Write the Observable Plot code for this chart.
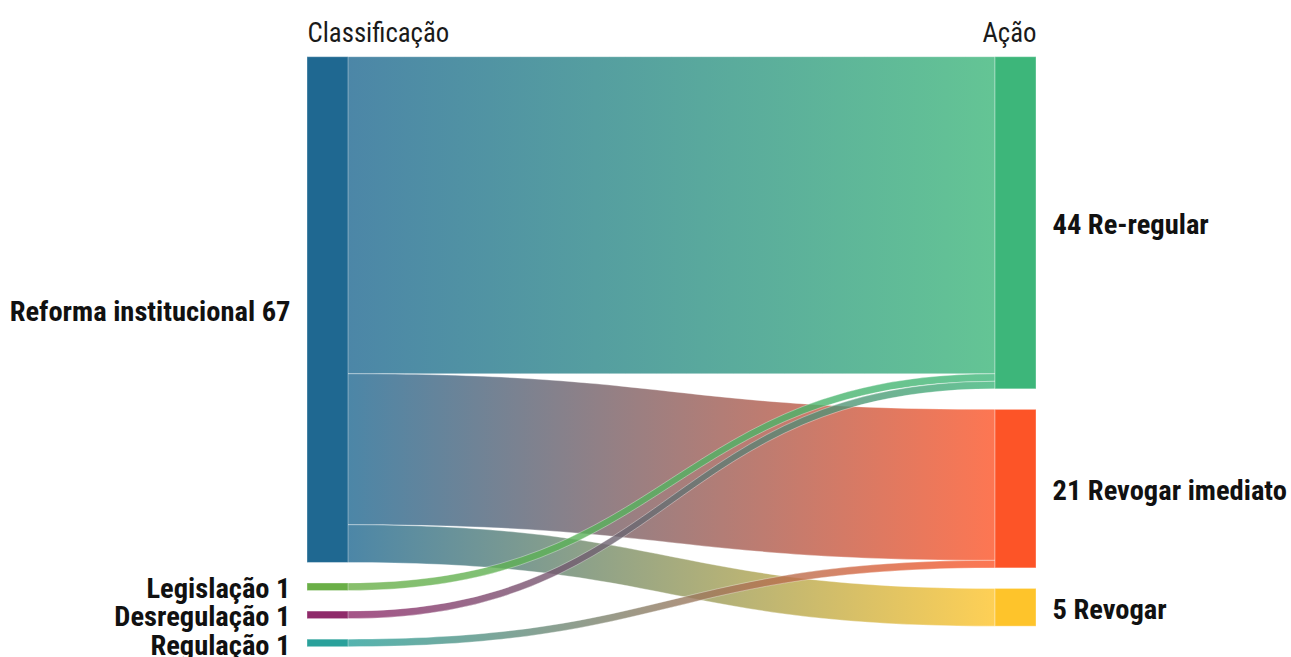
<!DOCTYPE html>
<html>
<head>
<meta charset="utf-8">
<script src="https://cdn.jsdelivr.net/npm/d3@7"></script>
<script src="https://cdn.jsdelivr.net/npm/@observablehq/plot@0.6"></script>
<style>
  html, body { margin: 0; padding: 0; background: #fff; overflow: hidden; }
</style>
</head>
<body>
<div id="chart"></div>
<script>
// ---- Data ----
const sourceNames = ["Reforma institucional", "Legislação", "Desregulação", "Regulação"];
const sourceColors = ["#1f6891", "#6aaf47", "#8f2a6a", "#2aa19b"];
const targetNames = ["Re-regular", "Revogar imediato", "Revogar"];
const targetColors = ["#3db67a", "#fd5427", "#fec42b"];
const linkSource = ["Reforma institucional", "Reforma institucional", "Reforma institucional", "Legislação", "Desregulação", "Regulação"];
const linkTarget = ["Re-regular", "Revogar imediato", "Revogar", "Re-regular", "Re-regular", "Revogar imediato"];
const linkValue = [42, 20, 5, 1, 1, 1];
const columnTitles = ["Classificação", "Ação"];

// ---- Layout (in value units) ----
const PAD = 2.72;          // gap between nodes, in value units
const NODE_W = 41 / 729;   // node width as a fraction of the column span

function column(names, colors, side) {
  const key = side === 0 ? linkSource : linkTarget;
  let y = 0;
  return names.map((name, i) => {
    const value = d3.sum(linkValue.filter((v, j) => key[j] === name));
    const node = {name, color: colors[i], value, side, y0: y, y1: y + value,
      x1: side === 0 ? 0 : 1 - NODE_W, x2: side === 0 ? NODE_W : 1};
    y += value + PAD;
    return node;
  });
}
const srcNodes = column(sourceNames, sourceColors, 0);
const tgtNodes = column(targetNames, targetColors, 1);
const links = linkValue.map((value, j) => ({
  j, value,
  source: srcNodes.find(n => n.name === linkSource[j]),
  target: tgtNodes.find(n => n.name === linkTarget[j])
}));
for (const n of srcNodes) {
  let y = n.y0;
  links.filter(l => l.source === n)
    .sort((a, b) => targetNames.indexOf(a.target.name) - targetNames.indexOf(b.target.name))
    .forEach(l => { l.sy0 = y; y += l.value; l.sy1 = y; });
}
for (const n of tgtNodes) {
  let y = n.y0;
  links.filter(l => l.target === n)
    .sort((a, b) => sourceNames.indexOf(a.source.name) - sourceNames.indexOf(b.source.name))
    .forEach(l => { l.ty0 = y; y += l.value; l.ty1 = y; });
}
const yMax = Math.max(d3.max(srcNodes, d => d.y1), d3.max(tgtNodes, d => d.y1));

// ---- Fonts ----
function hasFont(f) {
  const c = document.createElement("canvas").getContext("2d");
  const t = "Reforma institucional 67";
  c.font = "bold 29px monospace";
  const w0 = c.measureText(t).width;
  c.font = `bold 29px '${f}', monospace`;
  return c.measureText(t).width !== w0;
}
const condensedAvailable = hasFont("Roboto Condensed");
const FONT = condensedAvailable ? "'Roboto Condensed', Roboto, sans-serif" : "Roboto, sans-serif";
const CONDENSE = condensedAvailable ? 1 : 0.85;

// ---- Marks ----
const linkMarks = links.map((l, i) => Plot.area(
  [{x: NODE_W, y1: l.sy0, y2: l.sy1}, {x: 1 - NODE_W, y1: l.ty0, y2: l.ty1}],
  {x1: "x", y1: "y1", y2: "y2", curve: "bump-x",
   fill: `url(#lg${i})`, fillOpacity: 0.8,
   stroke: "white", strokeOpacity: 0.35, strokeWidth: 1}
));

const allNodes = srcNodes.concat(tgtNodes);

const plot = Plot.plot({
  width: 1291,
  height: 657,
  marginTop: 56.7,
  marginBottom: 10.3,
  marginLeft: 307,
  marginRight: 255,
  x: {domain: [0, 1], axis: null},
  y: {domain: [0, yMax], reverse: true, axis: null},
  color: {type: "identity"},
  style: {fontFamily: FONT, background: "white", overflow: "visible"},
  marks: [
    ...linkMarks,
    Plot.rect(allNodes, {x1: "x1", x2: "x2", y1: "y0", y2: "y1", fill: "color",
      stroke: "white", strokeOpacity: 0.35, strokeWidth: 1}),
    Plot.text(srcNodes, {x: () => 0, y: d => (d.y0 + d.y1) / 2,
      text: d => `${d.name} ${d.value}`, textAnchor: "end", dx: -17, dy: 2,
      fontWeight: "bold", fontSize: 28.5, fill: "#111"}),
    Plot.text(tgtNodes, {x: () => 1, y: d => (d.y0 + d.y1) / 2,
      text: d => `${d.value} ${d.name}`, textAnchor: "start", dx: 16, dy: 2,
      fontWeight: "bold", fontSize: 28.5, fill: "#111"}),
    Plot.text([columnTitles[0]], {x: () => 0, y: () => 0, text: d => d,
      textAnchor: "start", lineAnchor: "bottom", dy: -15,
      fontSize: 26.8, fontWeight: 400, fill: "#1a1a1a"}),
    Plot.text([columnTitles[1]], {x: () => 1, y: () => 0, text: d => d,
      textAnchor: "end", lineAnchor: "bottom", dy: -15,
      fontSize: 26.8, fontWeight: 400, fill: "#1a1a1a"})
  ]
});

// gradients for the links
const defs = d3.select(plot).insert("defs", ":first-child");
links.forEach((l, i) => {
  const g = defs.append("linearGradient").attr("id", `lg${i}`)
    .attr("x1", "0").attr("x2", "1").attr("y1", "0").attr("y2", "0");
  g.append("stop").attr("offset", "0").attr("stop-color", l.source.color);
  g.append("stop").attr("offset", "1").attr("stop-color", l.target.color);
});

document.getElementById("chart").appendChild(plot);

// emulate a condensed face when none is installed
if (CONDENSE !== 1) {
  plot.querySelectorAll("text").forEach(el => {
    const L = el.getComputedTextLength();
    el.setAttribute("textLength", (L * CONDENSE).toFixed(1));
    el.setAttribute("lengthAdjust", "spacingAndGlyphs");
  });
}
</script>
</body>
</html>
